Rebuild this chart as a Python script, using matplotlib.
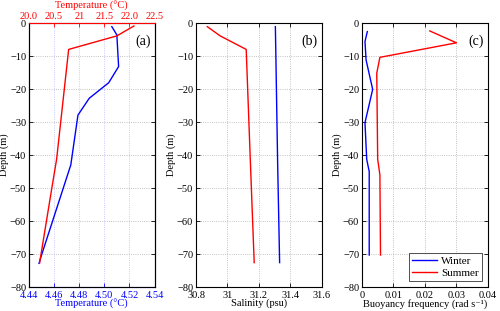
import matplotlib
matplotlib.use("Agg")
import matplotlib.pyplot as plt

plt.rcParams['font.family'] = ['Liberation Serif', 'DejaVu Serif']
plt.rcParams['font.size'] = 7.5
plt.rcParams['axes.unicode_minus'] = True

# (a) temperature
winter_t_depth = [-1.1, -3.6, -13.2, -18.1, -22.8, -27.9, -43.0, -71.0, -72.8]
winter_t = [4.506, 4.510, 4.5114, 4.5035, 4.488, 4.479, 4.4733, 4.4494, 4.448]
summer_t_depth = [-0.9, -3.9, -8.0, -41.3, -48.6, -72.8]
summer_t = [22.09, 21.75, 20.79, 20.55, 20.47, 20.21]

# (b) salinity
winter_s_depth = [-1.1, -41.3, -72.6]
winter_s = [31.306, 31.32, 31.333]
summer_s_depth = [-1.1, -3.9, -8.0, -41.3, -72.6]
summer_s = [30.872, 30.954, 31.12, 31.146, 31.171]

# (c) buoyancy frequency
winter_n_depth = [-2.6, -5.6, -11.2, -20.1, -30.2, -41.3, -45.0, -70.3]
winter_n = [0.0017, 0.00095, 0.0013, 0.0034, 0.00095, 0.0015, 0.0023, 0.0023]
summer_n_depth = [-2.4, -6.0, -10.4, -15.2, -41.3, -46.0, -70.3]
summer_n = [0.0216, 0.0301, 0.0057, 0.0047, 0.005, 0.0057, 0.0059]

fig = plt.figure(figsize=(5, 3.11), dpi=100)
w = 0.251
h = 0.849
b = 0.077
ax_a = fig.add_axes([0.058, b, w, h])
ax_b = fig.add_axes([0.392, b, w, h])
ax_c = fig.add_axes([0.724, b, w, h])


def style(ax):
    ax.set_ylim(-80, 0)
    ax.set_yticks(range(-80, 1, 10))
    ax.tick_params(direction='in', length=3, width=0.6, top=True, right=True, pad=2)
    ax.tick_params(axis='x', pad=2.5)
    ax.grid(True, linestyle=':', color='#b0b0b0', linewidth=0.6)
    for s in ax.spines.values():
        s.set_linewidth(0.8)
    ax.set_ylabel('Depth (m)', labelpad=1)


# panel a
style(ax_a)
ax_a.plot(winter_t, winter_t_depth, color='b', lw=1)
ax_a.set_xlim(4.44, 4.54)
ax_a.set_xticks([4.44, 4.46, 4.48, 4.50, 4.52, 4.54])
ax_a.set_xticklabels(['4.44', '4.46', '4.48', '4.50', '4.52', '4.54'])
ax_a.tick_params(axis='x', colors='b', top=False)
ax_a.spines['bottom'].set_color('b')
ax_a.set_xlabel('Temperature (°C)', color='b', labelpad=-0.5)
ax_a.grid(True, axis='x', linestyle=':', color='#b8b8ff', linewidth=0.6)
ax_a2 = ax_a.twiny()
ax_a2.plot(summer_t, summer_t_depth, color='r', lw=1)
ax_a2.set_xlim(20, 22.5)
ax_a2.set_xticks([20, 20.5, 21, 21.5, 22, 22.5])
ax_a2.set_xticklabels(['20.0', '20.5', '21', '21.5', '22.0', '22.5'])
ax_a2.tick_params(axis='x', colors='r', direction='in', length=3, width=0.6, pad=1.5)
ax_a2.spines['top'].set_color('r')
ax_a2.spines['top'].set_linewidth(0.8)
ax_a2.set_xlabel('Temperature (°C)', color='r', labelpad=2)
ax_a2.set_ylim(-80, 0)
ax_a.text(0.97, 0.955, '(a)', transform=ax_a.transAxes, ha='right', va='top', fontsize=10)

# panel b
style(ax_b)
ax_b.plot(winter_s, winter_s_depth, color='b', lw=1)
ax_b.plot(summer_s, summer_s_depth, color='r', lw=1)
ax_b.set_xlim(30.8, 31.6)
ax_b.set_xticks([30.8, 31.0, 31.2, 31.4, 31.6])
ax_b.set_xticklabels(['30.8', '31', '31.2', '31.4', '31.6'])
ax_b.set_xlabel('Salinity (psu)', labelpad=-0.5)
ax_b.text(0.97, 0.955, '(b)', transform=ax_b.transAxes, ha='right', va='top', fontsize=10)

# panel c
style(ax_c)
ax_c.plot(winter_n, winter_n_depth, color='b', lw=1, label='Winter')
ax_c.plot(summer_n, summer_n_depth, color='r', lw=1, label='Summer')
ax_c.set_xlim(0, 0.04)
ax_c.set_xticks([0, 0.01, 0.02, 0.03, 0.04])
ax_c.set_xticklabels(['0', '0.01', '0.02', '0.03', '0.04'])
ax_c.set_xlabel('Buoyancy frequency (rad s⁻¹)', labelpad=-0.5)
ax_c.text(0.97, 0.955, '(c)', transform=ax_c.transAxes, ha='right', va='top', fontsize=10)
leg = ax_c.legend(loc='lower right', fontsize=8, fancybox=False, edgecolor='k',
                  handlelength=2.2, borderpad=0.3, labelspacing=0.2,
                  handletextpad=0.4, borderaxespad=0.5)
leg.get_frame().set_linewidth(0.6)

fig.savefig('out.png', dpi=100)
